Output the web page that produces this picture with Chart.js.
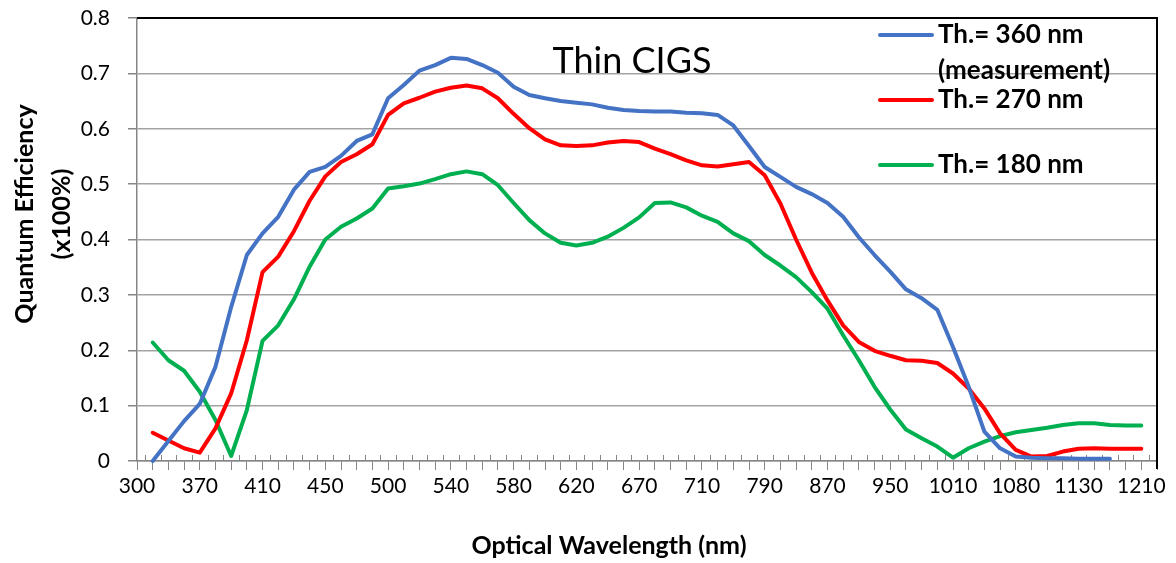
<!DOCTYPE html>
<html>
<head>
<meta charset="utf-8">
<script src="https://cdn.jsdelivr.net/npm/chart.js@4/dist/chart.umd.min.js"></script>
<style>
  html, body { margin: 0; padding: 0; background: #fff; }
  #wrap { position: relative; width: 1176px; height: 563px; }
</style>
</head>
<body>
<div id="wrap"><canvas id="chart-qe"></canvas></div>
<script>
// wavelength categories (nm) — only every 4th one gets a printed label
const WAVELENGTHS = [
  300, 320, 340, 355, 370, 380, 390, 400, 410, 420, 430, 440, 450, 460, 475, 490,
  500, 510, 520, 530, 540, 550, 560, 570, 580, 590, 600, 610, 620, 635, 645, 660,
  670, 680, 690, 700, 710, 730, 750, 770, 790, 810, 830, 850, 870, 890, 910, 930,
  950, 965, 980, 995, 1010, 1030, 1045, 1060, 1080, 1090, 1100, 1115, 1130, 1150,
  1170, 1190, 1210, 1230,
];
const LABEL_EVERY = 4;

// quantum efficiency (x100%) per category, null where the series has no point
const QE_360 = [
  null, 0.000, 0.036, 0.072, 0.103, 0.170, 0.278, 0.372, 0.411, 0.441, 0.490, 0.522,
  0.531, 0.551, 0.578, 0.590, 0.655, 0.679, 0.705, 0.715, 0.728, 0.726, 0.715, 0.701,
  0.676, 0.661, 0.655, 0.650, 0.647, 0.644, 0.638, 0.634, 0.632, 0.631, 0.631, 0.629,
  0.628, 0.625, 0.606, 0.569, 0.531, 0.513, 0.495, 0.482, 0.466, 0.441, 0.404, 0.372,
  0.342, 0.310, 0.294, 0.273, 0.206, 0.134, 0.053, 0.023, 0.008, 0.006, 0.005, 0.005,
  0.004, 0.004, 0.004, null, null, null,
];
const QE_270 = [
  null, 0.051, 0.037, 0.023, 0.015, 0.059, 0.122, 0.218, 0.341, 0.369, 0.415, 0.470,
  0.514, 0.540, 0.554, 0.572, 0.625, 0.646, 0.656, 0.667, 0.674, 0.678, 0.673, 0.655,
  0.627, 0.601, 0.581, 0.570, 0.569, 0.570, 0.575, 0.578, 0.576, 0.564, 0.554, 0.543,
  0.534, 0.532, 0.536, 0.540, 0.516, 0.465, 0.400, 0.340, 0.290, 0.245, 0.215, 0.199,
  0.190, 0.182, 0.181, 0.177, 0.158, 0.131, 0.095, 0.050, 0.020, 0.008, 0.009, 0.017,
  0.022, 0.023, 0.022, 0.022, 0.022, null,
];
const QE_180 = [
  null, 0.214, 0.182, 0.163, 0.125, 0.074, 0.009, 0.092, 0.217, 0.245, 0.292, 0.351,
  0.400, 0.423, 0.438, 0.456, 0.492, 0.496, 0.501, 0.509, 0.518, 0.523, 0.518, 0.498,
  0.466, 0.435, 0.411, 0.394, 0.389, 0.394, 0.405, 0.421, 0.440, 0.466, 0.467, 0.458,
  0.443, 0.432, 0.411, 0.397, 0.372, 0.353, 0.332, 0.305, 0.275, 0.227, 0.182, 0.134,
  0.093, 0.057, 0.041, 0.026, 0.006, 0.023, 0.035, 0.045, 0.052, 0.056, 0.060, 0.065,
  0.068, 0.068, 0.065, 0.064, 0.064, null,
];

const SERIES_LABELS = [["Th.= 360 nm", "(measurement)"], ["Th.= 270 nm"], ["Th.= 180 nm"]];
const SERIES_COLORS = ["#4472C4", "#FF0000", "#00B050"];
const Y_MIN = 0;
const Y_MAX = 0.8;
const Y_STEP = 0.1;

const AXIS_GRAY = "#868686";
const GRID_GRAY = "#a3a3a3";

// plot frame, half-step tick marks, title, axis titles and the in-plot legend
const decorations = {
  id: "decorations",
  beforeDatasetsDraw(chart) {
    const { ctx, chartArea } = chart;
    const xs = chart.scales.x;
    ctx.save();
    ctx.strokeStyle = AXIS_GRAY;
    ctx.lineWidth = 1;
    for (let i = 0; i < WAVELENGTHS.length - 1; i++) {
      const x = Math.round((xs.getPixelForValue(i) + xs.getPixelForValue(i + 1)) / 2) + 0.5;
      ctx.beginPath();
      ctx.moveTo(x, chartArea.bottom - 6);
      ctx.lineTo(x, chartArea.bottom);
      ctx.stroke();
    }
    ctx.restore();
  },
  afterDraw(chart, args, opts) {
    const { ctx, chartArea } = chart;
    ctx.save();

    // top and right edges of the plot area
    ctx.strokeStyle = "#000";
    ctx.lineWidth = 2;
    ctx.beginPath();
    ctx.moveTo(chartArea.left, chartArea.top);
    ctx.lineTo(chartArea.right, chartArea.top);
    ctx.lineTo(chartArea.right, chartArea.bottom + 8);
    ctx.stroke();

    ctx.fillStyle = "#000";
    ctx.textBaseline = "middle";

    ctx.font = "36px Lato";
    ctx.textAlign = "center";
    ctx.fillText(opts.title, opts.titleX, opts.titleY);

    ctx.font = "bold 25px Lato";
    ctx.fillText(opts.xTitle, opts.xTitleX, opts.xTitleY);

    ctx.save();
    ctx.translate(opts.yTitleX, opts.yTitleY);
    ctx.rotate(-Math.PI / 2);
    opts.yTitle.forEach((line, k) => ctx.fillText(line, 0, k * opts.yTitleLead));
    ctx.restore();

    // legend
    ctx.font = "bold 26px Lato";
    ctx.textAlign = "left";
    chart.data.datasets.forEach((ds, k) => {
      const y = opts.legendRows[k];
      ctx.strokeStyle = ds.borderColor;
      ctx.lineWidth = 4;
      ctx.lineCap = "round";
      ctx.beginPath();
      ctx.moveTo(opts.legendX, y);
      ctx.lineTo(opts.legendX + 52, y);
      ctx.stroke();
      SERIES_LABELS[k].forEach((line, j) => {
        ctx.fillText(line, opts.legendX + 58, y + j * opts.legendLead);
      });
    });

    ctx.restore();
  },
};

function makeDataset(label, data, color) {
  return {
    label,
    data,
    borderColor: color,
    backgroundColor: color,
    borderWidth: 4,
    borderJoinStyle: "round",
    borderCapStyle: "round",
    pointRadius: 0,
    tension: 0,
    spanGaps: false,
    clip: false,
  };
}

new Chart(document.getElementById("chart-qe"), {
  type: "line",
  data: {
    labels: WAVELENGTHS.map(String),
    datasets: [
      makeDataset(SERIES_LABELS[0].join(" "), QE_360, SERIES_COLORS[0]),
      makeDataset(SERIES_LABELS[1].join(" "), QE_270, SERIES_COLORS[1]),
      makeDataset(SERIES_LABELS[2].join(" "), QE_180, SERIES_COLORS[2]),
    ],
  },
  options: {
    responsive: true,
    maintainAspectRatio: false,
    animation: false,
    layout: { padding: { top: 18, right: 19, left: 0, bottom: 0 } },
    plugins: {
      legend: { display: false },
      tooltip: { enabled: false },
      decorations: {
        title: "Thin CIGS",
        titleX: 632, titleY: 61,
        xTitle: "Optical Wavelength (nm)",
        xTitleX: 609, xTitleY: 546,
        yTitle: ["Quantum Efficiency", "(x100%)"],
        yTitleX: 25, yTitleY: 214, yTitleLead: 37,
        legendX: 880,
        legendRows: [35, 100, 165],
        legendLead: 36,
      },
    },
    scales: {
      x: {
        type: "category",
        offset: false,
        afterFit: s => { s.height = 102; },
        grid: { drawOnChartArea: false, drawTicks: true, tickLength: 9, color: AXIS_GRAY, lineWidth: 1 },
        border: { color: AXIS_GRAY, width: 1.5 },
        ticks: {
          autoSkip: false,
          maxRotation: 0,
          padding: 4,
          color: "#000",
          font: { family: "Lato", size: 21 },
          callback(value, index) {
            return index % LABEL_EVERY === 0 ? this.getLabelForValue(value) : "";
          },
        },
      },
      y: {
        min: Y_MIN,
        max: Y_MAX,
        afterFit: s => {
          s.width = 137;
          // let the layout padding alone decide where the plot starts
          s.paddingTop = 0;
          s.paddingBottom = 0;
        },
        grid: { color: GRID_GRAY, lineWidth: 1.5, tickLength: 9, tickColor: AXIS_GRAY },
        border: { color: AXIS_GRAY, width: 1.5 },
        ticks: {
          stepSize: Y_STEP,
          padding: 18,
          color: "#000",
          font: { family: "Lato", size: 21 },
          callback: v => (v === 0 ? "0" : v.toFixed(1)),
        },
      },
    },
  },
  plugins: [decorations],
});
</script>
</body>
</html>
